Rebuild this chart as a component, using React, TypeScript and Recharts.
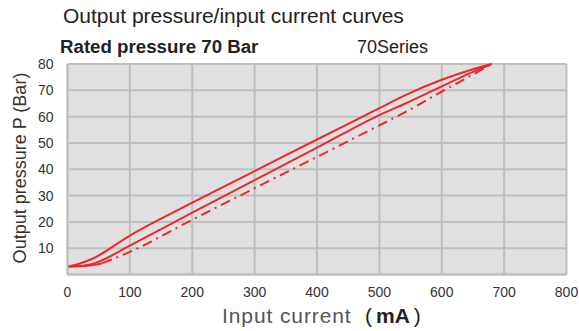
import { LineChart, Line, XAxis, YAxis, CartesianGrid, Label } from 'recharts'

const xTicks = [0, 100, 200, 300, 400, 500, 600, 700, 800]
const yTicks = [10, 20, 30, 40, 50, 60, 70, 80]

// upper branch (solid)
const upperCurrent = [0, 20, 40, 100, 200, 300, 400, 500, 540, 600, 650, 680]
const upperPressure = [3, 4.2, 6, 14.8, 27.3, 39.3, 51.3, 63.2, 68, 74, 78, 80]

// middle branch (solid)
const middleCurrent = [0, 30, 50, 100, 200, 300, 400, 500, 540, 600, 650, 680]
const middlePressure = [3, 3.5, 4.9, 11, 23.5, 35.9, 48.2, 60.6, 64.8, 71.5, 77, 80]

// short solid start of the lower branch
const lowStartCurrent = [0, 30, 56]
const lowStartPressure = [3, 3.3, 4.3]

// lower branch (dash-dot)
const lowerCurrent = [56, 100, 200, 300, 400, 500, 540, 600, 650, 680]
const lowerPressure = [4.3, 8.6, 20.8, 32.8, 44.7, 56.7, 61.5, 69.5, 76, 80]

const toPoints = (xs: number[], ys: number[]) => xs.map((x, i) => ({ current: x, pressure: ys[i] }))

const RED = '#f0262b'
const FONT = '"Liberation Sans", Arial, sans-serif'

export default function App() {
  return (
    <div style={{ position: 'relative', width: 579, height: 331, background: '#fff', fontFamily: FONT }}>
      <style>{'body{margin:0}'}</style>
      <div style={{ position: 'absolute', left: 63, top: 4, fontSize: 21, color: '#222', whiteSpace: 'nowrap' }}>
        Output pressure/input current curves
      </div>
      <div style={{ position: 'absolute', left: 60, top: 36, fontSize: 18.7, fontWeight: 'bold', color: '#222', whiteSpace: 'nowrap' }}>
        Rated pressure 70 Bar
      </div>
      <div style={{ position: 'absolute', left: 357, top: 37, fontSize: 18, color: '#222', whiteSpace: 'nowrap' }}>
        70Series
      </div>
      <LineChart width={579} height={331} margin={{ top: 64, right: 12.5, left: 0, bottom: 26.5 }}>
        <CartesianGrid stroke="#bfbfbf" strokeWidth={2} fill="#e0e0e0" />
        <XAxis
          type="number"
          dataKey="current"
          domain={[0, 800]}
          ticks={xTicks}
          height={30}
          tickLine={false}
          axisLine={{ stroke: '#bfbfbf', strokeWidth: 2 }}
          tick={{ fill: '#333', fontSize: 14, fontFamily: FONT }}
          tickMargin={7}
          allowDataOverflow
        >
          <Label
            content={() => (
              <text x={222} y={323} fontFamily={FONT} fontSize={21}>
                <tspan fill="#555" letterSpacing={0.9}>Input current</tspan>
                <tspan x={365} fill="#222">(</tspan>
                <tspan dx={4} fill="#222" fontWeight="bold">mA</tspan>
                <tspan dx={4} fill="#222">)</tspan>
              </text>
            )}
          />
        </XAxis>
        <YAxis
          type="number"
          dataKey="pressure"
          domain={[0, 80]}
          ticks={yTicks}
          width={67.5}
          tickLine={false}
          axisLine={{ stroke: '#bfbfbf', strokeWidth: 2 }}
          tick={{ fill: '#333', fontSize: 14, fontFamily: FONT }}
          tickMargin={8}
        >
          <Label
            content={() => (
              <text
                x={26}
                y={168}
                transform="rotate(-90 26 168)"
                textAnchor="middle"
                fill="#333"
                fontSize={18}
                fontFamily={FONT}
              >
                Output pressure P (Bar)
              </text>
            )}
          />
        </YAxis>
        <Line
          data={toPoints(upperCurrent, upperPressure)}
          dataKey="pressure"
          type="monotone"
          stroke={RED}
          strokeWidth={2}
          dot={false}
          isAnimationActive={false}
        />
        <Line
          data={toPoints(middleCurrent, middlePressure)}
          dataKey="pressure"
          type="monotone"
          stroke={RED}
          strokeWidth={2}
          dot={false}
          isAnimationActive={false}
        />
        <Line
          data={toPoints(lowStartCurrent, lowStartPressure)}
          dataKey="pressure"
          type="monotone"
          stroke={RED}
          strokeWidth={2}
          dot={false}
          isAnimationActive={false}
        />
        <Line
          data={toPoints(lowerCurrent, lowerPressure)}
          dataKey="pressure"
          type="monotone"
          stroke={RED}
          strokeWidth={2}
          strokeDasharray="10 5 2 5"
          dot={false}
          isAnimationActive={false}
        />
      </LineChart>
    </div>
  )
}
